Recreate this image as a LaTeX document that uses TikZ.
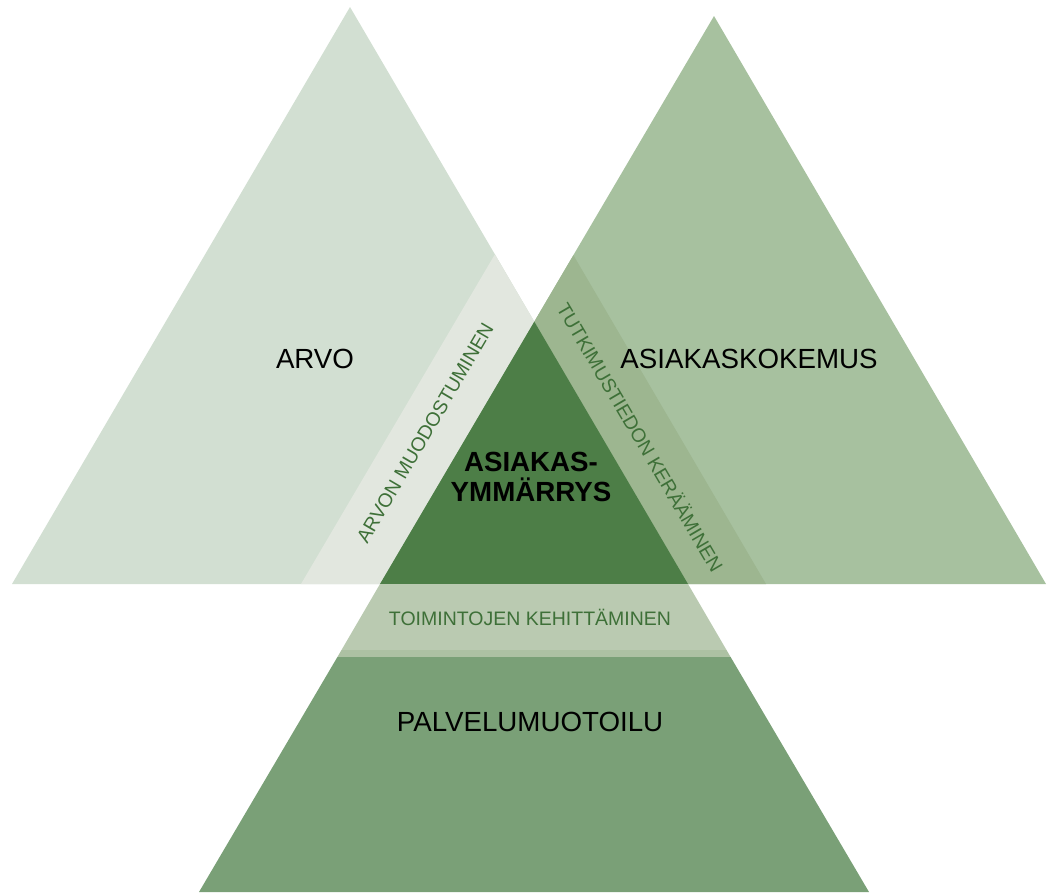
\documentclass[tikz,border=0pt]{standalone}
\usepackage{fontspec}
\setmainfont{Liberation Sans}
\definecolor{arvobg}{HTML}{D2DFD2}
\definecolor{arvoband}{HTML}{E2E7DF}
\definecolor{kokemusbg}{HTML}{A7C19F}
\definecolor{kokemusband}{HTML}{9DB690}
\definecolor{core}{HTML}{4D7E47}
\definecolor{palvelubg}{HTML}{7AA077}
\definecolor{palveluband}{HTML}{BACAB1}
\definecolor{palveluline}{HTML}{ADC1A3}
\definecolor{labelgreen}{HTML}{3E7038}
\usetikzlibrary{positioning}

\begin{document}
\begin{tikzpicture}[x=1pt,y=-1pt,
    big/.style={font=\fontsize{27.7}{30}\selectfont, text=black, inner sep=0pt, align=center},
    small/.style={font=\fontsize{19.5}{22}\selectfont, text=labelgreen, inner sep=0pt}]
    \useasboundingbox (0,0) rectangle (1048,892);

    % corner points of the three triangles
    \coordinate (la) at (350,7);
    \coordinate (ll) at (12,584);
    \coordinate (lr) at (688,584);
    \coordinate (ra) at (714,16);
    \coordinate (rl) at (380,584);
    \coordinate (rr) at (1046,584);
    \coordinate (top) at (534.3,321.6);

    % big triangles
    \fill[arvobg] (la) -- (ll) -- (lr) -- cycle;
    \fill[kokemusbg] (ra) -- (rl) -- (rr) -- cycle;

    % bands along the inner edges
    \fill[arvoband] (494.9,254.3) -- (301,584) -- (rl) -- (top) -- cycle;
    \fill[kokemusband] (573.4,255.2) -- (top) -- (lr) -- (766,584) -- cycle;
    \fill[core] (top) -- (rl) -- (lr) -- cycle;

    % bottom triangle
    \fill[palveluband] (rl) -- (lr) -- (726.5,650) -- (341.5,650) -- cycle;
    \fill[palveluline] (341.5,650) -- (726.5,650) -- (730.6,657) -- (337.4,657) -- cycle;
    \fill[palvelubg] (337.4,657) -- (730.6,657) -- (869,892) -- (199,892) -- cycle;

    % labels
    \node[big] (arvo) at (315,359) {ARVO};
    \node[big] (kokemus) at (749,359) {ASIAKASKOKEMUS};
    \node[big, font=\bfseries\fontsize{27.7}{30}\selectfont] (ymmarrys) at (531,477) {ASIAKAS-\\YMMÄRRYS};
    \node[big] (palvelu) at (530,722) {PALVELUMUOTOILU};
    \node[small] (toiminnot) at (530,617) {TOIMINTOJEN KEHITTÄMINEN};
    \node[small, rotate=59.6] (muodostus) at (425,433) {ARVON MUODOSTUMINEN};
    \node[small, rotate=-59.6] (tutkimus) at (641,437) {TUTKIMUSTIEDON KERÄÄMINEN};
\end{tikzpicture}
\end{document}
